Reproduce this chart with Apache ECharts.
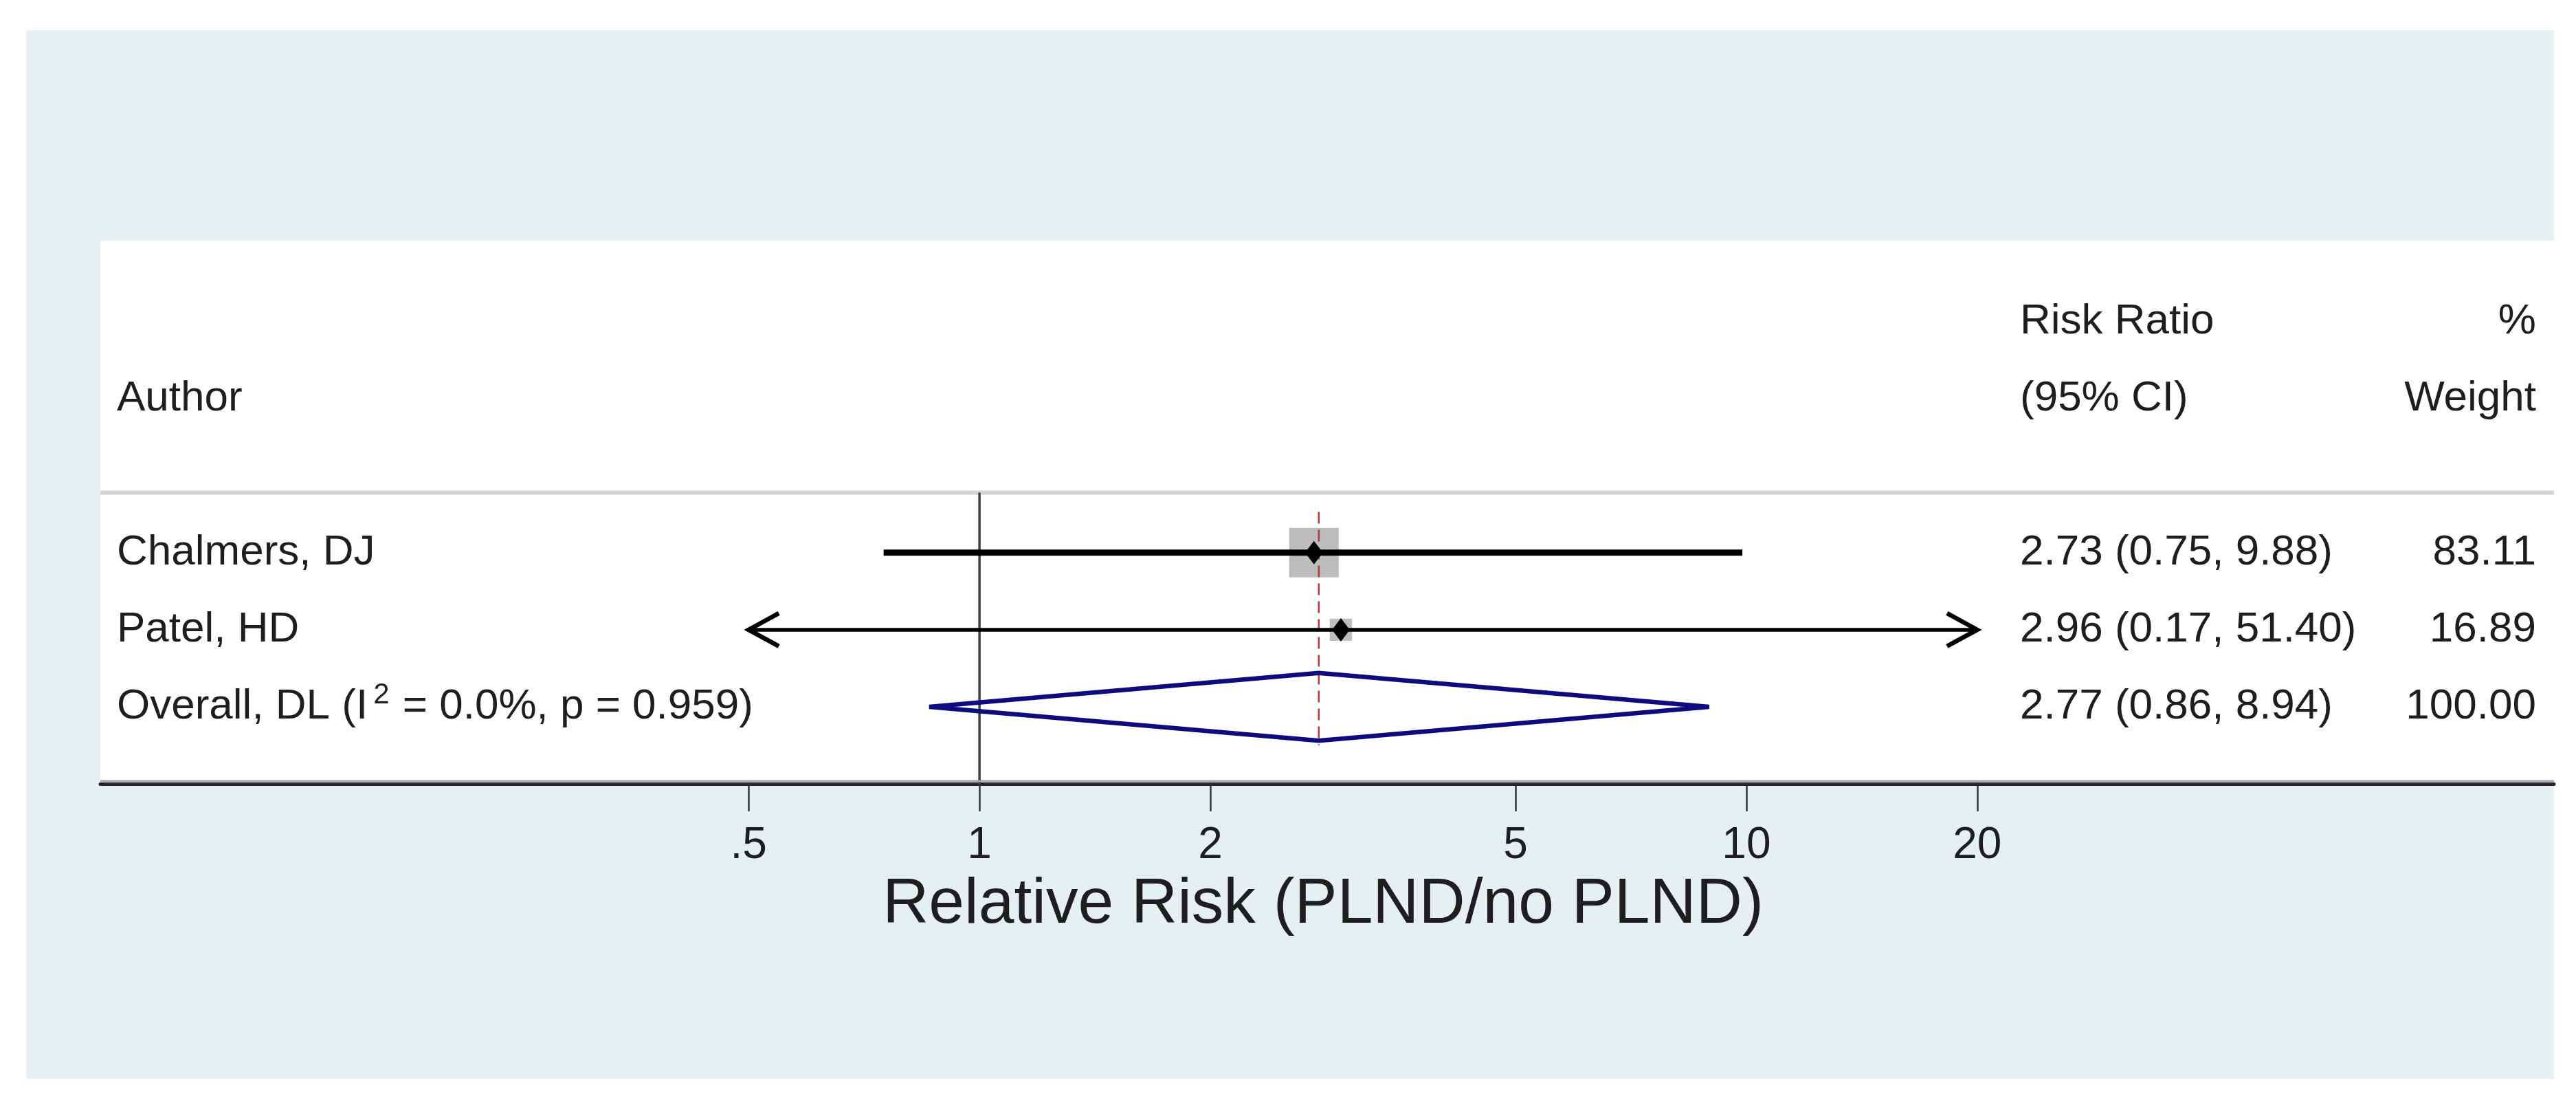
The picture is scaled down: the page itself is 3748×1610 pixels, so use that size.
<!DOCTYPE html>
<html>
<head>
<meta charset="utf-8">
<script src="https://cdn.jsdelivr.net/npm/echarts@6/dist/echarts.min.js"></script>
<style>
html,body{margin:0;padding:0;background:#ffffff;}
#chart{width:3748px;height:1610px;}
</style>
</head>
<body>
<div id="chart"></div>
<script>
// ---------------- data ----------------
const studies   = ['Chalmers, DJ', 'Patel, HD'];
const estimates = [2.73, 2.96];
const lowerCI   = [0.75, 0.17];
const upperCI   = [9.88, 51.40];
const weights   = [83.11, 16.89];

const overallLabel = 'Overall, DL (I{sup|2} = 0.0%, p = 0.959)';
const overallEst = 2.77;
const overallLow = 0.86;
const overallHigh = 8.94;
const overallWeight = 100.00;

const tickValues = [0.5, 1, 2, 5, 10, 20];
const tickLabels = ['.5', '1', '2', '5', '10', '20'];
const axisTitle = 'Relative Risk (PLND/no PLND)';
const headerCol1 = ['Author'];
const headerCol2 = ['Risk Ratio', '(95% CI)'];
const headerCol3 = ['%', 'Weight'];

// ---------------- layout ----------------
const FONT = '"Liberation Sans", Arial, sans-serif';
const TXT = '#1e1e1e';
const plotMin = 0.5, plotMax = 20;           // drawn range of CIs (arrows beyond)
const xMin = 0.0714, xMax = 113;              // axis extent (full white panel width)
const yMin = -3.05, yMax = 4;                 // row scale (inverted)
const colAuthorX = 170, colCIX = 2939, colWX = 3690;

const rowsStudy = studies.map((s, i) => i + 1);
const rowOverall = studies.length + 1;

function f2(v){ return v.toFixed(2); }

// study series data: [est, row, lo, hi, weight]
const studyData = studies.map((s, i) => [estimates[i], rowsStudy[i], lowerCI[i], upperCI[i], weights[i]]);

// text entries
const textData = [];
textData.push({value:[1, -1], text: headerCol1[0], col: 0});
textData.push({value:[1, -2], text: headerCol2[0], col: 1});
textData.push({value:[1, -1], text: headerCol2[1], col: 1});
textData.push({value:[1, -2], text: headerCol3[0], col: 2});
textData.push({value:[1, -1], text: headerCol3[1], col: 2});
studies.forEach((s, i) => {
  textData.push({value:[1, rowsStudy[i]], text: s, col: 0});
  textData.push({value:[1, rowsStudy[i]], text: f2(estimates[i]) + ' (' + f2(lowerCI[i]) + ', ' + f2(upperCI[i]) + ')', col: 1});
  textData.push({value:[1, rowsStudy[i]], text: f2(weights[i]), col: 2});
});
textData.push({value:[1, rowOverall], text: overallLabel, col: 0});
textData.push({value:[1, rowOverall], text: f2(overallEst) + ' (' + f2(overallLow) + ', ' + f2(overallHigh) + ')', col: 1});
textData.push({value:[1, rowOverall], text: f2(overallWeight), col: 2});

const chart = echarts.init(document.getElementById('chart'), null, {renderer: 'canvas'});

const maxW = Math.max.apply(null, weights);

const option = {
  animation: false,
  backgroundColor: '#ffffff',
  graphic: [
    {type: 'rect', z: -10, silent: true, shape: {x: 38, y: 44, width: 3678, height: 1525}, style: {fill: '#e4f0f1'}},
    {type: 'text', x: 1925, y: 1316, z: 10, style: {text: axisTitle, font: '93px ' + FONT, fill: TXT, align: 'center', verticalAlign: 'middle'}}
  ],
  grid: {left: 146, right: 32, top: 350, bottom: 470, show: true, backgroundColor: '#ffffff', borderWidth: 0, containLabel: false},
  xAxis: {
    type: 'log', logBase: 10, min: xMin, max: xMax,
    splitLine: {show: false},
    axisLine: {show: true, onZero: false, lineStyle: {color: '#262626', width: 5}},
    axisTick: {show: true, inside: false, length: 40, customValues: tickValues, lineStyle: {color: '#333', width: 2.5}},
    axisLabel: {show: true, margin: 58, customValues: tickValues, fontSize: 64, fontFamily: FONT, color: TXT,
      formatter: function(v){ const i = tickValues.findIndex(t => Math.abs(t - v) < 1e-9); return i >= 0 ? tickLabels[i] : ''; }},
    minorTick: {show: false}
  },
  yAxis: {type: 'value', inverse: true, min: yMin, max: yMax, show: false, splitLine: {show: false}},
  series: [
    // header separator, null line, grey band over axis
    {
      type: 'custom', name: 'frame', z: 1, silent: true,
      data: [[1, 0.22]],
      renderItem: function(params, api){
        const cs = params.coordSys;
        const ySep = api.coord([1, 0.22])[1];
        const x1 = api.coord([1, 0.22])[0];
        const yBot = api.coord([1, yMax])[1];
        return {type: 'group', children: [
          {type: 'line', shape: {x1: cs.x, y1: ySep, x2: cs.x + cs.width, y2: ySep}, style: {stroke: '#d4d4d4', lineWidth: 6}},
          {type: 'line', shape: {x1: x1, y1: ySep, x2: x1, y2: yBot}, style: {stroke: '#404040', lineWidth: 3.5}},
          {type: 'line', shape: {x1: cs.x, y1: yBot - 4, x2: cs.x + cs.width, y2: yBot - 4}, style: {stroke: '#a8a8a8', lineWidth: 3}}
        ]};
      }
    },
    // overall dashed line
    {
      type: 'custom', name: 'overallLine', z: 3, silent: true,
      data: [[overallEst, 0.47]],
      renderItem: function(params, api){
        const p1 = api.coord([overallEst, 0.47]);
        const p2 = api.coord([overallEst, rowOverall + 0.5]);
        return {type: 'line', shape: {x1: p1[0], y1: p1[1], x2: p2[0], y2: p2[1]}, style: {stroke: '#c0303a', lineWidth: 2.5, lineDash: [17, 9]}};
      }
    },
    // boxes (under dashed line)
    {
      type: 'custom', name: 'boxes', z: 2, silent: true,
      data: studyData,
      renderItem: function(params, api){
        const p = api.coord([api.value(0), api.value(1)]);
        const s = 72 * Math.sqrt(api.value(4) / maxW);
        return {type: 'rect', shape: {x: p[0] - s/2, y: p[1] - s/2, width: s, height: s}, style: {fill: '#bdbdbd'}};
      }
    },
    // CI lines, arrows, point markers
    {
      type: 'custom', name: 'studies', z: 4, silent: true,
      data: studyData,
      renderItem: function(params, api){
        const row = api.value(1);
        const lo = api.value(2), hi = api.value(3);
        const clipLo = Math.max(lo, plotMin), clipHi = Math.min(hi, plotMax);
        const pL = api.coord([clipLo, row]);
        const pR = api.coord([clipHi, row]);
        const pE = api.coord([api.value(0), row]);
        const lw = api.value(4) > 50 ? 9 : 5.5;
        const children = [
          {type: 'line', shape: {x1: pL[0], y1: pL[1], x2: pR[0], y2: pR[1]}, style: {stroke: '#000', lineWidth: lw}}
        ];
        const AL = 44, AH = 24;
        if (lo < plotMin) children.push({type: 'polyline', shape: {points: [[pL[0] + AL, pL[1] - AH], [pL[0], pL[1]], [pL[0] + AL, pL[1] + AH]]}, style: {stroke: '#000', lineWidth: 6.5, fill: null}});
        if (hi > plotMax) children.push({type: 'polyline', shape: {points: [[pR[0] - AL, pR[1] - AH], [pR[0], pR[1]], [pR[0] - AL, pR[1] + AH]]}, style: {stroke: '#000', lineWidth: 6.5, fill: null}});
        children.push({type: 'polygon', shape: {points: [[pE[0], pE[1] - 17], [pE[0] + 13, pE[1]], [pE[0], pE[1] + 17], [pE[0] - 13, pE[1]]]}, style: {fill: '#000'}});
        return {type: 'group', children: children};
      }
    },
    // overall diamond
    {
      type: 'custom', name: 'overall', z: 5, silent: true,
      data: [[overallEst, rowOverall, overallLow, overallHigh]],
      renderItem: function(params, api){
        const row = api.value(1);
        const pE = api.coord([api.value(0), row]);
        const pL = api.coord([api.value(2), row]);
        const pR = api.coord([api.value(3), row]);
        const top = api.coord([api.value(0), row - 0.44])[1];
        const bot = api.coord([api.value(0), row + 0.44])[1];
        return {type: 'polygon', shape: {points: [[pL[0], pL[1]], [pE[0], top], [pR[0], pR[1]], [pE[0], bot]]}, style: {fill: null, stroke: '#0c0c80', lineWidth: 6.5, lineJoin: 'miter'}};
      }
    },
    // table texts
    {
      type: 'custom', name: 'texts', z: 6, silent: true,
      data: textData,
      renderItem: function(params, api){
        const item = textData[params.dataIndex];
        const y = api.coord([1, api.value(1)])[1];
        const x = item.col === 0 ? colAuthorX : (item.col === 1 ? colCIX : colWX);
        const align = item.col === 2 ? 'right' : 'left';
        return {type: 'text', x: x, y: y, style: {
          text: item.text, fontSize: 62, fontFamily: FONT, fill: TXT, align: align, verticalAlign: 'middle',
          rich: {sup: {fontSize: 42, fontFamily: FONT, fill: TXT, verticalAlign: 'top', padding: [0, 2, 34, 8]}}
        }};
      }
    }
  ]
};

chart.setOption(option);
</script>
</body>
</html>
